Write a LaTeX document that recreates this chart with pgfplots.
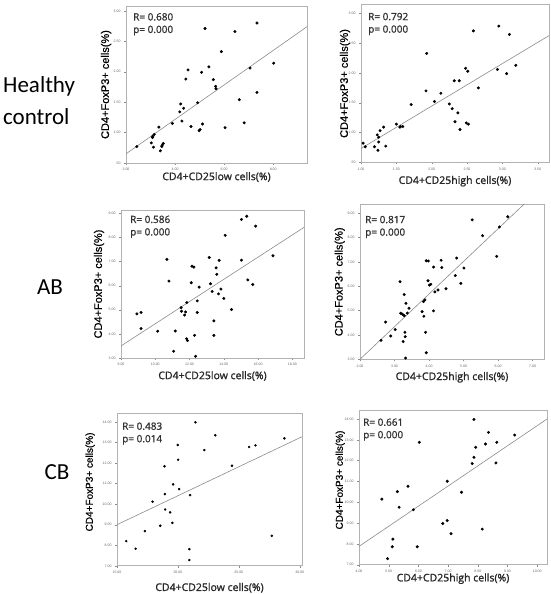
\documentclass[border=0pt]{standalone}
\usepackage{pgfplots}
\pgfplotsset{compat=1.18}
\usepackage{fontspec}
\setmainfont{Liberation Sans}
\newfontfamily\calib{Carlito}
\newfontfamily\osans[FakeBold=1.2]{Open Sans}
\newfontfamily\lsans{Liberation Sans}
\newfontfamily\lsansb[FakeBold=0.6]{Liberation Sans}

\pgfplotsset{
  panel/.style={
    scale only axis, anchor=north west, clip=true,
    axis line style={draw=black!30, line width=0.6pt},
    every tick/.style={draw=black!45, line width=0.3pt},
    tick align=outside, major tick length=2pt,
    xtick pos=bottom, ytick pos=left,
    ticklabel style={font=\lsans\fontsize{3.5}{4}\selectfont, text=black!60},
    /pgf/number format/assume math mode=true,
    /pgf/number format/fixed, /pgf/number format/fixed zerofill,
    /pgf/number format/precision=2,
    xlabel style={font=\osans\fontsize{10.5}{12}\selectfont, text=black!85, at={(axis description cs:0.5,0)}, anchor=center},
    ylabel style={font=\lsansb\fontsize{11}{12}\selectfont, anchor=center},
  },
  pts/.style={only marks, mark=*, mark size=1.3pt, black},
  fit/.style={black!45, line width=0.6pt, no marks},
}
\tikzset{rptext/.style={anchor=north west, align=left, inner sep=0pt, text=black!80,
  font=\osans\fontsize{10}{12.5}\selectfont}}

\begin{document}
\begin{tikzpicture}
\path[use as bounding box] (0pt,0pt) rectangle (551pt,594pt);
\fill[white] (0pt,0pt) rectangle (551pt,594pt);

% row labels
\node[anchor=base west, font=\calib\fontsize{23}{26}\selectfont, inner sep=0pt] at (3pt,501pt) {Healthy};
\node[anchor=base west, font=\calib\fontsize{23}{26}\selectfont, inner sep=0pt] at (3pt,469pt) {control};
\node[anchor=base, font=\calib\fontsize{23}{26}\selectfont, inner sep=0pt] at (50pt,299pt) {AB};
\node[anchor=base, font=\calib\fontsize{23}{26}\selectfont, inner sep=0pt] at (57pt,114pt) {CB};

% ---------- Healthy control, low
\begin{axis}[panel, name=p1, at={(126pt,588pt)}, width=181pt, height=157pt,
  xmin=2, xmax=9.38, ymin=0.5, ymax=3.08,
  xtick={2,4,6,8}, ytick={0.5,1,1.5,2,2.5,3},
  yticklabels={.50,1.00,1.50,2.00,2.50,3.00},
  xlabel={CD4+CD25low cells(\%)}, ylabel={CD4+FoxP3+ cells(\%)},
  xlabel style={yshift=-14pt},
  ylabel style={at={(axis description cs:-0.11,0.5)}}]
\addplot[fit] coordinates {(2,0.65) (9.38,2.74)};
\addplot[pts] coordinates {
(2.44,0.77) (3.03,0.83) (3.09,0.94) (3.08,0.92) (3.12,0.76) (3.15,0.97)
(3.34,1.09) (3.40,0.70) (3.46,0.77) (3.47,0.79) (3.52,0.82) (3.89,1.15)
(4.19,1.34) (4.23,1.47) (4.28,1.19) (4.35,1.40) (4.44,1.88) (4.53,2.03)
(4.65,1.10) (4.92,1.49) (4.98,1.03) (5.02,1.05) (5.08,1.99) (5.12,1.14)
(5.22,2.71) (5.38,2.08) (5.56,1.87) (5.65,1.76) (5.67,1.72) (5.89,2.33)
(6.04,1.08) (6.44,2.66) (6.62,1.54) (6.82,1.16) (7.06,2.06) (7.34,2.80)
(7.34,1.66) (8.02,2.14)};
\end{axis}
\node[rptext] at ([shift={(7pt,-7pt)}]p1.north west) {R= 0.680\\p= 0.000};

% ---------- Healthy control, high
\begin{axis}[panel, name=p2, at={(361pt,589.3pt)}, width=188pt, height=157.5pt,
  xmin=1, xmax=3.66, ymin=0.5, ymax=3.15,
  xtick={1,1.5,2,2.5,3,3.5}, ytick={0.5,1,1.5,2,2.5,3},
  yticklabels={.50,1.00,1.50,2.00,2.50,3.00},
  xlabel={CD4+CD25high cells(\%)}, ylabel={CD4+FoxP3+ cells(\%)},
  xlabel style={yshift=-19pt},
  ylabel style={at={(axis description cs:-0.085,0.5)}}]
\addplot[fit] coordinates {(1,0.73) (3.66,2.63)};
\addplot[pts] coordinates {
(1.03,0.82) (1.06,0.76) (1.19,0.76) (1.23,0.96) (1.24,0.70) (1.25,0.84)
(1.25,0.92) (1.27,1.03) (1.32,1.09) (1.35,0.77) (1.50,1.14) (1.55,1.09)
(1.56,1.10) (1.59,1.10) (1.71,1.47) (1.92,1.70) (1.93,2.33) (2.04,1.52)
(2.13,1.66) (2.25,1.48) (2.29,1.40) (2.32,1.87) (2.33,1.18) (2.37,1.33)
(2.39,1.87) (2.40,1.05) (2.48,2.08) (2.49,1.16) (2.51,2.03) (2.52,1.14)
(2.59,2.71) (2.66,1.75) (2.93,2.06) (2.95,2.79) (3.06,1.99) (3.10,2.65)
(3.19,2.13)};
\end{axis}
\node[rptext] at ([shift={(7pt,-8pt)}]p2.north west) {R= 0.792\\p= 0.000};

% ---------- AB, low
\begin{axis}[panel, name=p3, at={(121pt,384pt)}, width=183pt, height=148pt,
  xmin=8, xmax=18.68, ymin=3, ymax=9.14,
  xtick={8,10,12,14,16,18}, ytick={3,4,5,6,7,8,9},
  xlabel={CD4+CD25low cells(\%)}, ylabel={CD4+FoxP3+ cells(\%)},
  xlabel style={yshift=-18pt},
  ylabel style={at={(axis description cs:-0.12,0.5)}}]
\addplot[fit] coordinates {(8,3.50) (18.68,8.42)};
\addplot[pts] coordinates {
(8.93,4.83) (9.17,4.89) (9.17,4.22) (10.14,4.11) (10.68,7.09) (10.80,6.19)
(11.07,3.28) (11.17,4.12) (11.51,5.09) (11.53,4.94) (11.71,4.78) (11.77,4.91)
(11.83,3.80) (11.88,3.72) (11.84,5.30) (12.10,6.12) (12.14,6.81) (12.25,6.77)
(12.29,3.94) (12.35,3.07) (12.45,5.37) (12.45,4.89) (12.56,5.94) (13.15,7.17)
(13.22,6.08) (13.32,5.76) (13.42,4.54) (13.42,3.94) (13.55,6.74) (13.59,6.47)
(13.69,5.66) (13.73,7.05) (13.83,5.86) (14.00,5.47) (14.08,8.09) (14.45,5.01)
(15.03,8.75) (15.03,7.06) (15.34,8.88) (15.40,6.24) (15.69,6.05) (15.86,8.47)
(16.87,7.24)};
\end{axis}
\node[rptext] at ([shift={(9pt,-5.5pt)}]p3.north west) {R= 0.586\\p= 0.000};

% ---------- AB, high
\begin{axis}[panel, name=p4, at={(360pt,389.7pt)}, width=184pt, height=155pt,
  xmin=2, xmax=7.33, ymin=3, ymax=9.37,
  xtick={2,3,4,5,6,7}, ytick={3,4,5,6,7,8,9},
  xlabel={CD4+CD25high cells(\%)}, ylabel={CD4+FoxP3+ cells(\%)},
  xlabel style={yshift=-18pt},
  ylabel style={at={(axis description cs:-0.11,0.5)}}]
\addplot[fit] coordinates {(2,3.0) (7.33,10.15)};
\addplot[pts] coordinates {
(2.61,3.78) (2.74,4.53) (2.89,3.96) (3.02,4.22) (3.16,6.19) (3.18,4.89)
(3.23,4.85) (3.25,3.73) (3.28,5.66) (3.28,4.79) (3.30,4.11) (3.31,3.93)
(3.32,3.05) (3.33,5.30) (3.37,4.90) (3.42,5.10) (3.80,4.96) (3.84,5.37)
(3.85,4.77) (3.88,5.44) (3.90,4.11) (3.92,3.27) (3.92,7.05) (3.97,6.23)
(3.98,7.04) (4.01,6.05) (4.05,6.08) (4.13,4.99) (4.13,6.79) (4.17,5.77)
(4.26,5.85) (4.35,7.07) (4.37,6.77) (4.49,5.90) (4.76,6.44) (4.80,7.16)
(4.92,6.12) (5.01,6.75) (5.25,8.73) (5.55,8.08) (5.96,7.23) (6.04,8.44)
(6.28,8.86)};
\end{axis}
\node[rptext] at ([shift={(5pt,-11.4pt)}]p4.north west) {R= 0.817\\p= 0.000};

% ---------- CB, low
\begin{axis}[panel, name=p5, at={(117pt,180.7pt)}, width=185pt, height=152.5pt,
  xmin=15, xmax=30.19, ymin=7, ymax=14.42,
  xtick={15,20,25,30}, ytick={7,8,9,10,11,12,13,14},
  xlabel={CD4+CD25low cells(\%)}, ylabel={CD4+FoxP3+ cells(\%)},
  xlabel style={yshift=-22pt},
  ylabel style={font=\lsansb\fontsize{10}{12}\selectfont, at={(axis description cs:-0.145,0.55)}}]
\addplot[fit] coordinates {(15,9.0) (30.19,13.28)};
\addplot[pts, mark size=1.05pt] coordinates {
(15.76,8.20) (16.53,7.83) (17.29,8.69) (17.92,10.12) (18.55,8.95) (18.90,11.84)
(18.93,10.49) (18.95,9.74) (19.36,9.60) (19.55,9.09) (19.61,10.96) (19.99,12.88)
(20.02,12.16) (20.10,10.73) (20.94,7.81) (20.94,7.28) (21.00,10.44) (21.44,13.98)
(22.17,12.63) (23.07,13.35) (24.44,11.87) (25.85,12.78) (26.37,12.86) (27.71,8.46)
(28.74,13.20)};
\end{axis}
\node[rptext] at ([shift={(5pt,-9pt)}]p5.north west) {R= 0.483\\p= 0.014};

% ---------- CB, high
\begin{axis}[panel, name=p6, at={(359pt,183.3pt)}, width=188pt, height=154pt,
  xmin=4, xmax=10.33, ymin=7, ymax=14.4,
  xtick={4,5,6,7,8,9,10}, ytick={7,8,9,10,11,12,13,14},
  xlabel={CD4+CD25high cells(\%)}, ylabel={CD4+FoxP3+ cells(\%)},
  xlabel style={yshift=-14pt},
  ylabel style={font=\lsansb\fontsize{10}{12}\selectfont, at={(axis description cs:-0.10,0.55)}}]
\addplot[fit] coordinates {(4,7.88) (10.33,14.0)};
\addplot[pts] coordinates {
(4.77,10.15) (4.96,7.29) (5.12,7.86) (5.14,8.23) (5.29,10.51) (5.35,9.76)
(5.65,10.77) (5.83,9.64) (5.96,7.86) (6.03,12.88) (6.82,8.98) (6.97,11.01)
(6.97,9.12) (7.10,8.49) (7.45,10.48) (7.81,11.86) (7.87,13.98) (7.87,12.16)
(7.93,12.64) (8.15,8.71) (8.26,12.80) (8.36,13.36) (8.61,11.89) (8.64,12.88)
(9.24,13.23)};
\end{axis}
\node[rptext] at ([shift={(4pt,-7.6pt)}]p6.north west) {R= 0.661\\p= 0.000};
\end{tikzpicture}
\end{document}
